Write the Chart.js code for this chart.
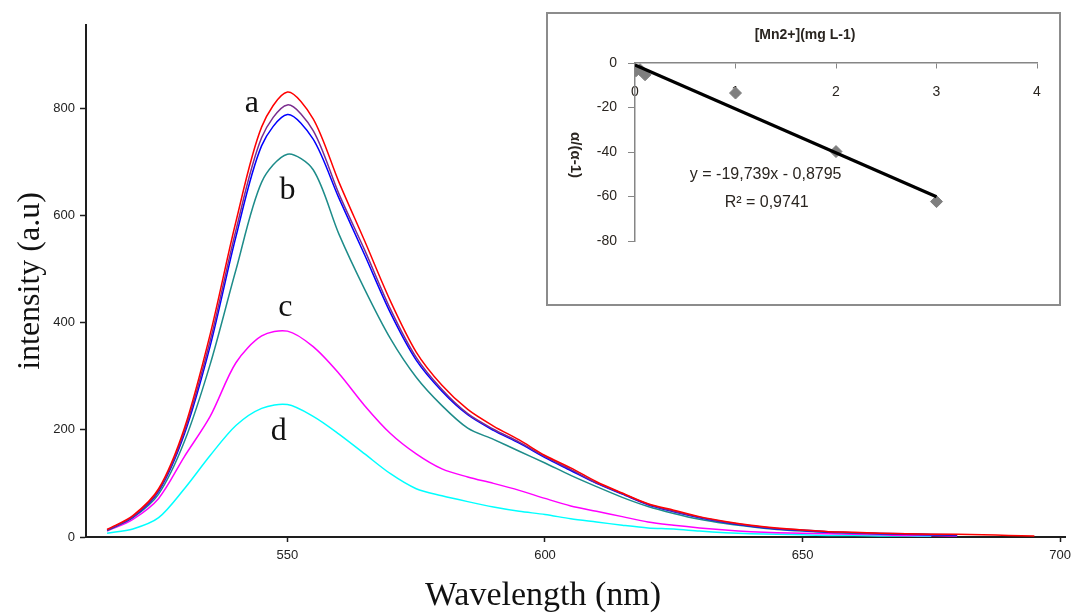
<!DOCTYPE html>
<html>
<head>
<meta charset="utf-8">
<script src="https://cdn.jsdelivr.net/npm/chart.js@4.4.0/dist/chart.umd.min.js"></script>
<style>
  html, body { margin: 0; padding: 0; background: #fff; }
  #wrap { position: relative; width: 1077px; height: 615px; overflow: hidden; }
  #main { position: absolute; left: 0; top: 0; }
  #insetBox { position: absolute; left: 546px; top: 12px; width: 511px; height: 290px; border: 2px solid #8c8c8c; background: #fff; }
  #inset { display: block; }
</style>
</head>
<body>
<div id="wrap">
  <canvas id="main" width="1077" height="615"></canvas>
  <div id="insetBox"><canvas id="inset" width="511" height="290"></canvas></div>
</div>
<script>
// emission spectra, wavelength in nm, 5 nm steps
const wavelengths = [515, 520, 525, 530, 535, 540, 545, 550, 555, 560, 565, 570, 575, 580, 585, 590, 595, 600, 605, 610,
                     615, 620, 625, 630, 635, 640, 645, 650, 655, 660, 665, 670, 675, 680, 685, 690, 695];
const spectrumRed     = [14, 40, 90, 203, 378, 588, 765, 830, 780, 662, 552, 440, 345, 283, 238, 207, 181, 152, 129, 103,
                         82, 62, 50, 38, 29, 22, 17, 13, 10, 9, 7, 6, 5, 5, 4, 3, 2];
const spectrumPurple  = [13, 38, 87, 197, 366, 572, 745, 806, 758, 640, 535, 425, 335, 275, 230, 201, 177, 150, 126, 101,
                         81, 61, 48, 37, 28, 21, 16, 13, 10, 8, 7, 6, 5, 4];
const spectrumBlue    = [13, 37, 85, 192, 356, 560, 730, 788, 742, 632, 526, 418, 330, 272, 228, 199, 175, 148, 124, 100,
                         80, 60, 47, 36, 27, 20, 15, 12, 9, 8, 6, 5, 4, 3];
const spectrumTeal    = [12, 36, 80, 178, 322, 498, 662, 714, 685, 565, 462, 370, 298, 245, 203, 182, 160, 138, 115, 94,
                         74, 57, 44, 33, 25, 19, 14, 11, 9, 7, 6, 5, 4, 3];
const spectrumMagenta = [11, 33, 72, 150, 225, 325, 375, 384, 355, 305, 245, 193, 155, 127, 112, 100, 87, 72, 58, 48,
                         38, 28, 22, 17, 13, 10, 8, 7, 6, 5, 4, 3, 3, 2];
const spectrumCyan    = [7, 15, 36, 90, 152, 208, 240, 247, 225, 192, 155, 118, 90, 77, 66, 56, 48, 42, 34, 28,
                         22, 17, 15, 11, 8, 6, 5, 4, 3, 3, 2, 2, 1];

const xTickValues = [550, 600, 650, 700];
const yTickValues = [0, 200, 400, 600, 800];

// curve letters: [text, wavelength, intensity]
const curveLabels = [['a', 543.1, 809], ['b', 550, 647], ['c', 549.6, 428], ['d', 548.3, 196]];

// inset: calibration
const concMn = [0.01, 0.05, 0.1, 1, 2, 3];
const alphaRatio = [-3.5, -3.0, -5.3, -13.5, -39.8, -62.3];
const fitX = [0, 3];
const fitY = [-0.9, -60.1];
const insetXTicks = [0, 1, 2, 3, 4];
const insetYTicks = [0, -20, -40, -60, -80];

function toPoints(xs, ys) {
    return ys.map((y, i) => ({ x: xs[i], y: y }));
}

function spectrum(data, color) {
    return {
        data: toPoints(wavelengths, data),
        borderColor: color,
        borderWidth: 1.5,
        pointRadius: 0,
        fill: false,
        tension: 0.3
    };
}

const axisColor = '#1e1e1e';

const mainLabels = {
    id: 'mainLabels',
    afterDatasetsDraw(chart) {
        const ctx = chart.ctx;
        const xs = chart.scales.x, ys = chart.scales.y;
        ctx.save();
        ctx.fillStyle = '#111';
        ctx.textAlign = 'center';
        ctx.textBaseline = 'middle';
        ctx.font = '32px "Liberation Serif", "Times New Roman", serif';
        curveLabels.forEach(([t, w, v]) => {
            ctx.fillText(t, xs.getPixelForValue(w), ys.getPixelForValue(v));
        });
        ctx.font = '34px "Liberation Serif", "Times New Roman", serif';
        ctx.fillText('Wavelength (nm)', 543, 596);
        ctx.restore();
    }
};

new Chart(document.getElementById('main'), {
    type: 'line',
    data: {
        datasets: [
            spectrum(spectrumRed, '#ff0000'),
            spectrum(spectrumPurple, '#7b2d8e'),
            spectrum(spectrumBlue, '#0000ff'),
            spectrum(spectrumTeal, '#1e8c8a'),
            spectrum(spectrumMagenta, '#ff00ff'),
            spectrum(spectrumCyan, '#00ffff')
        ]
    },
    options: {
        responsive: false,
        animation: false,
        layout: { padding: { left: 0, top: 25, right: 4, bottom: 0 } },
        plugins: { legend: { display: false }, tooltip: { enabled: false } },
        scales: {
            x: {
                type: 'linear',
                min: 510.9,
                max: 701,
                afterBuildTicks: s => { s.ticks = xTickValues.map(v => ({ value: v })); },
                afterFit: s => { s.height = 78; },
                grid: { drawOnChartArea: false, tickLength: 5, color: axisColor, tickWidth: 1.5 },
                border: { color: axisColor, width: 2 },
                ticks: {
                    padding: 6,
                    color: '#222',
                    maxRotation: 0,
                    font: { family: '"Liberation Sans Narrow", "Liberation Sans", Arial, sans-serif', size: 13 }
                }
            },
            y: {
                min: 0,
                max: 955,
                afterBuildTicks: s => { s.ticks = yTickValues.map(v => ({ value: v })); },
                afterFit: s => { s.width = 86; },
                grid: { drawOnChartArea: false, tickLength: 6, color: axisColor, tickWidth: 1.5 },
                border: { color: axisColor, width: 2 },
                ticks: {
                    padding: 5,
                    color: '#222',
                    font: { family: '"Liberation Sans Narrow", "Liberation Sans", Arial, sans-serif', size: 13 }
                },
                title: {
                    display: true,
                    text: 'intensity (a.u)',
                    color: '#111',
                    padding: { top: 11, bottom: 0 },
                    font: { family: '"Liberation Serif", "Times New Roman", serif', size: 32 }
                }
            }
        }
    },
    plugins: [mainLabels]
});

// inset chart
const insetText = '#2a2520';
const insetFont = '"Liberation Sans", Arial, sans-serif';

const insetLabels = {
    id: 'insetLabels',
    afterDraw(chart) {
        const ctx = chart.ctx;
        const xs = chart.scales.x, ys = chart.scales.y;
        ctx.save();
        ctx.fillStyle = insetText;
        ctx.textAlign = 'center';
        ctx.textBaseline = 'middle';
        ctx.font = 'bold 14px ' + insetFont;
        ctx.fillText('[Mn2+](mg L-1)', 257, 21);
        ctx.font = '16px ' + insetFont;
        ctx.fillText('y = -19,739x - 0,8795', xs.getPixelForValue(1.3), ys.getPixelForValue(-50.3));
        ctx.fillText('R² = 0,9741', xs.getPixelForValue(1.31), ys.getPixelForValue(-62.6));
        ctx.translate(27, (chart.chartArea.top + chart.chartArea.bottom) / 2 + 3);
        ctx.rotate(Math.PI / 2);
        ctx.font = 'bold 15px ' + insetFont;
        ctx.fillText('α/(α-1)', 0, 0);
        ctx.restore();
    }
};

new Chart(document.getElementById('inset'), {
    type: 'scatter',
    data: {
        datasets: [
            {
                data: toPoints(fitX, fitY),
                showLine: true,
                borderColor: '#000',
                borderWidth: 3.2,
                pointRadius: 0
            },
            {
                data: toPoints(concMn, alphaRatio),
                pointStyle: 'rectRot',
                pointRadius: 6,
                backgroundColor: '#7f7f7f',
                borderColor: '#7f7f7f'
            }
        ]
    },
    options: {
        responsive: false,
        animation: false,
        layout: { padding: { left: 0, top: 49, right: 22, bottom: 63 } },
        plugins: { legend: { display: false }, tooltip: { enabled: false } },
        scales: {
            x: {
                type: 'linear',
                position: { y: 0 },
                min: 0,
                max: 4,
                afterBuildTicks: s => { s.ticks = insetXTicks.map(v => ({ value: v })); },
                grid: { drawOnChartArea: false, tickLength: 5, color: '#868686' },
                border: { color: '#868686', width: 1.5 },
                ticks: { padding: 16, color: insetText, maxRotation: 0, font: { family: insetFont, size: 14 } }
            },
            y: {
                min: -80,
                max: 0,
                afterBuildTicks: s => { s.ticks = insetYTicks.map(v => ({ value: v })); },
                afterFit: s => { s.width = 87; },
                grid: { drawOnChartArea: false, tickLength: 7, color: '#868686' },
                border: { color: '#868686', width: 1.5 },
                ticks: { padding: 11, color: insetText, font: { family: insetFont, size: 14 } }
            }
        }
    },
    plugins: [insetLabels]
});
</script>
</body>
</html>
